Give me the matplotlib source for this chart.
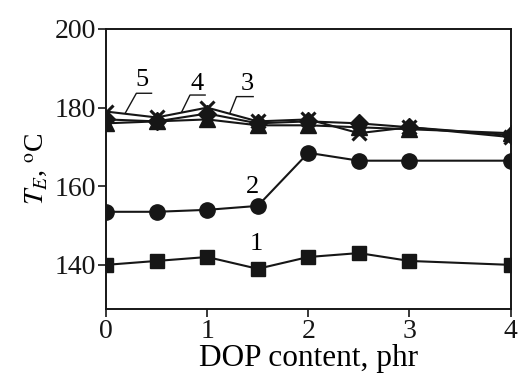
import matplotlib
matplotlib.use("Agg")
import matplotlib.pyplot as plt

plt.rcParams['font.family'] = ['Liberation Serif', 'DejaVu Serif']
plt.rcParams['mathtext.fontset'] = 'stix'

dop = [0, 0.5, 1, 1.5, 2, 2.5, 3, 4]
s1 = [140, 141, 142, 139, 142, 143, 141, 140]
s2 = [153.5, 153.5, 154, 155, 168.5, 166.5, 166.5, 166.5]
s3 = [176, 176.5, 177, 175.5, 175.5, 175, 174.5, 173.5]
s4 = [177, 176.5, 178.5, 176, 176.5, 176, 175, 173]
s5 = [179, 177.5, 180, 176.5, 177, 173.5, 175, 172.5]

xticks = [0, 1, 2, 3, 4]
yticks = [140, 160, 180, 200]

fig = plt.figure(figsize=(5.21, 3.76), dpi=100)
ax = fig.add_axes([0.2035, 0.1774, 0.7765, 0.7455])

lw = 1.5
c = '#161616'
ax.plot(dop, s1, color=c, lw=lw, marker='s', ms=10, zorder=3)
ax.plot(dop, s2, color=c, lw=lw, marker='o', ms=11, zorder=3)
ax.plot(dop, s3, color=c, lw=lw, marker='^', ms=11, zorder=3)
ax.plot(dop, s4, color=c, lw=lw, marker='D', ms=9, zorder=3)
ax.plot(dop, s5, color=c, lw=lw, marker='x', ms=10, mew=2.2, zorder=3)

fs_lab = 19
ax.text(1.49, 145.3, '1', fontsize=fs_lab, ha='center', va='center')
ax.text(1.45, 159.8, '2', fontsize=fs_lab, ha='center', va='center')
ax.text(0.36, 187.0, '5', fontsize=fs_lab, ha='center', va='center')
ax.text(0.90, 186.0, '4', fontsize=fs_lab, ha='center', va='center')
ax.text(1.40, 186.0, '3', fontsize=fs_lab, ha='center', va='center')

lc = dict(color=c, lw=1.0)
ax.plot([0.19, 0.30, 0.45], [178.6, 183.65, 183.65], **lc)
ax.plot([0.75, 0.83, 0.98], [179.0, 183.2, 183.2], **lc)
ax.plot([1.225, 1.29, 1.455], [178.6, 182.8, 182.8], **lc)

ax.set_xlim(0, 4)
ax.set_ylim(128.7, 200)
ax.set_xticks(xticks)
ax.set_yticks(yticks)
ax.tick_params(direction='out', length=5.5, width=1.2, labelsize=20, pad=1.5, colors=c)
for sp in ax.spines.values():
    sp.set_linewidth(1.4)
    sp.set_color(c)

ax.set_xlabel('DOP content, phr', fontsize=22.5, labelpad=0)
ax.set_ylabel(r'$T_E$, $^{\mathrm{o}}$C', fontsize=20, labelpad=4)

fig.savefig('out.png', dpi=100)
